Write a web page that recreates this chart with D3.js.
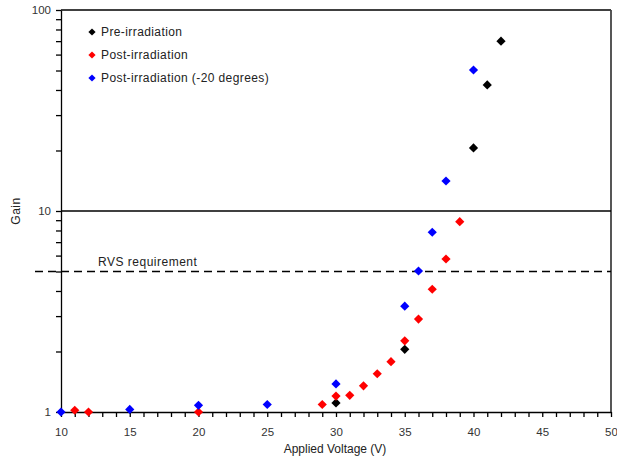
<!DOCTYPE html>
<html><head>
<meta charset="utf-8">
<script src="https://cdnjs.cloudflare.com/ajax/libs/d3/7.8.5/d3.min.js"></script>
<style>
    body { margin: 0; background: #fff; }
    text { font-family: "Liberation Sans", Arial, sans-serif; }
    .axis text { font-size: 11.5px; fill: #333; }
    .axis path, .axis line { stroke: #000; stroke-width: 1.3; }
</style>
</head>
<body>
<script>
// values
var preX = [30, 35, 40, 41, 42];
var preY = [1.11, 2.05, 20.6, 42.4, 70];
var postX = [11, 12, 20, 29, 30, 31, 32, 33, 34, 35, 36, 37, 38, 39];
var postY = [1.02, 1.0, 1.0, 1.09, 1.2, 1.21, 1.35, 1.55, 1.78, 2.26, 2.9, 4.08, 5.77, 8.85];
var coldX = [10, 15, 20, 25, 30, 35, 36, 37, 38, 40];
var coldY = [1.0, 1.03, 1.08, 1.09, 1.38, 3.36, 5.03, 7.84, 14.1, 50.3];
var seriesNames = ["Pre-irradiation", "Post-irradiation", "Post-irradiation (-20 degrees)"];
var seriesColors = ["#000000", "#ff0000", "#0000ff"];
var xTicks = d3.range(10, 51, 1);
var yTicks = [1, 2, 3, 4, 5, 6, 7, 8, 9, 10, 20, 30, 40, 50, 60, 70, 80, 90, 100];
var yLabels = [1, 10, 100];
var rvsLevel = 5;
var refLevel = 10;

var W = 617, H = 466;
var mLeft = 61, mRight = 611, mTop = 10, mBottom = 412;

var svg = d3.select("body").append("svg")
    .attr("width", W).attr("height", H);

var x = d3.scaleLinear().domain([10, 50]).range([mLeft, mRight]);
var y = d3.scaleLog().domain([1, 100]).range([mBottom, mTop]);

function diamond(r) {
    return "M0," + (-r) + "L" + r + ",0L0," + r + "L" + (-r) + ",0Z";
}

// frame top and right
svg.append("line").attr("x1", mLeft).attr("x2", mRight).attr("y1", mTop).attr("y2", mTop)
    .attr("stroke", "#000").attr("stroke-width", 1.3);
svg.append("line").attr("x1", mRight).attr("x2", mRight).attr("y1", mTop).attr("y2", mBottom)
    .attr("stroke", "#444").attr("stroke-width", 1.8);

// reference lines
svg.append("line").attr("x1", mLeft).attr("x2", mRight).attr("y1", y(refLevel)).attr("y2", y(refLevel))
    .attr("stroke", "#000").attr("stroke-width", 1.3);
svg.append("line").attr("x1", mLeft - 26).attr("x2", mRight).attr("y1", y(rvsLevel)).attr("y2", y(rvsLevel))
    .attr("stroke", "#000").attr("stroke-width", 1.3).attr("stroke-dasharray", "8,5");
svg.append("text").attr("x", 98).attr("y", y(rvsLevel) - 6)
    .style("font-size", "12px").style("letter-spacing", "0.5px").attr("fill", "#222")
    .text("RVS requirement");

// axes
var xAxis = d3.axisBottom(x).tickValues(xTicks).tickSize(5).tickSizeOuter(0)
    .tickFormat(function(d) { return d % 5 === 0 ? d : ""; });
var gx = svg.append("g").attr("class", "axis").attr("transform", "translate(0," + mBottom + ")").call(xAxis);
gx.selectAll("text").attr("dy", "1.4em");

var yAxis = d3.axisLeft(y).tickValues(yTicks).tickSize(5).tickSizeOuter(0)
    .tickFormat(function(d) { return yLabels.indexOf(d) >= 0 ? d : ""; });
var gy = svg.append("g").attr("class", "axis").attr("transform", "translate(" + mLeft + ",0)").call(yAxis);
gy.selectAll("text").attr("x", -10);

svg.append("text").attr("x", 335).attr("y", 453)
    .attr("text-anchor", "middle").style("font-size", "12px").attr("fill", "#222")
    .text("Applied Voltage (V)");
svg.append("text").attr("transform", "translate(20," + y(10) + ") rotate(-90)")
    .attr("text-anchor", "middle").style("font-size", "12px").style("letter-spacing", "0.5px")
    .attr("fill", "#222").text("Gain");

// points
var allSeries = [[preX, preY], [postX, postY], [coldX, coldY]];
allSeries.forEach(function(s, i) {
    svg.append("g").selectAll("path").data(s[0]).enter().append("path")
        .attr("d", diamond(4.6))
        .attr("transform", function(d, j) { return "translate(" + x(d) + "," + y(s[1][j]) + ")"; })
        .attr("fill", seriesColors[i]);
});

// legend
var leg = svg.append("g");
seriesNames.forEach(function(n, i) {
    var ly = 32 + i * 23;
    leg.append("path").attr("d", diamond(3.6)).attr("transform", "translate(92," + ly + ")")
        .attr("fill", seriesColors[i]);
    leg.append("text").attr("x", 101).attr("y", ly + 4).style("font-size", "12px")
        .style("letter-spacing", "0.4px").attr("fill", "#222").text(n);
});
</script>
</body></html>
